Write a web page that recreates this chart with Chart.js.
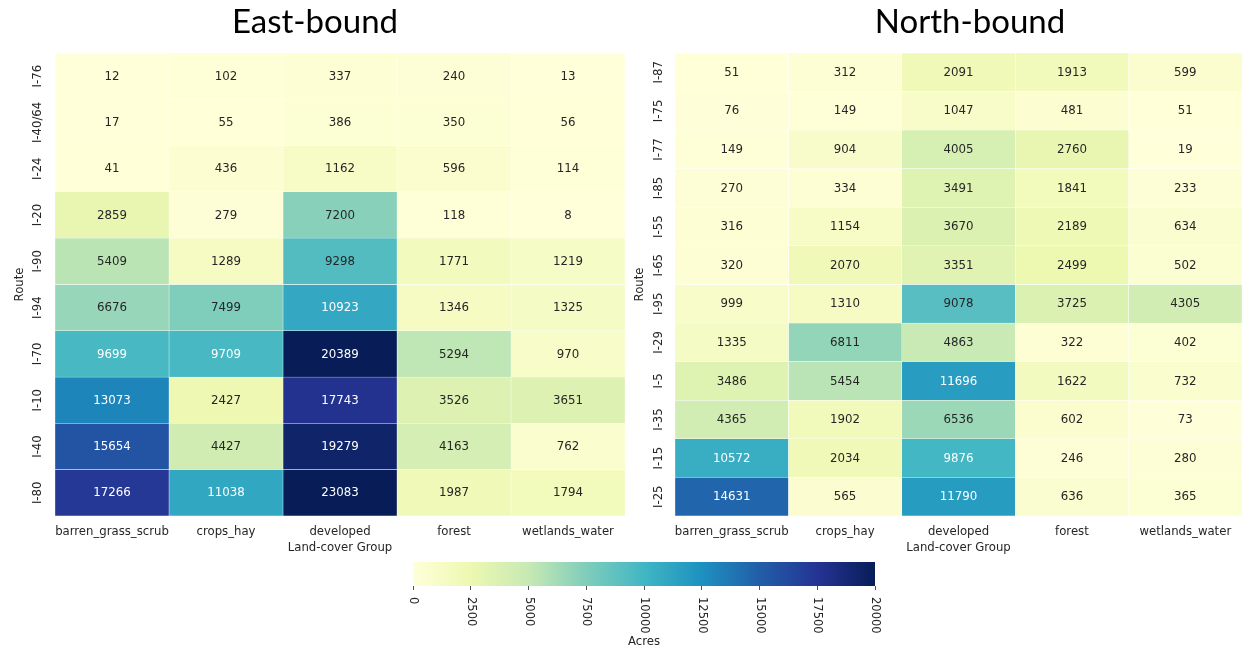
<!DOCTYPE html>
<html>
<head>
<meta charset="utf-8">
<script src="https://cdn.jsdelivr.net/npm/chart.js@4"></script>
<style>
  html, body { margin: 0; padding: 0; background: #ffffff; overflow: hidden; width: 1243px; height: 652px; }
  canvas { position: absolute; }
</style>
</head>
<body>
<canvas id="east" width="630" height="560" style="left:0px;top:0px;"></canvas>
<canvas id="north" width="700" height="560" style="left:620px;top:0px;"></canvas>
<canvas id="cbar" width="490" height="97" style="left:400px;top:555px;"></canvas>
<script>
// ---------- data ----------
const groups = ['barren_grass_scrub', 'crops_hay', 'developed', 'forest', 'wetlands_water'];

const eastRoutes = ['I-76', 'I-40/64', 'I-24', 'I-20', 'I-90', 'I-94', 'I-70', 'I-10', 'I-40', 'I-80'];
const eastBarren    = [12, 17, 41, 2859, 5409, 6676, 9699, 13073, 15654, 17266];
const eastCrops     = [102, 55, 436, 279, 1289, 7499, 9709, 2427, 4427, 11038];
const eastDeveloped = [337, 386, 1162, 7200, 9298, 10923, 20389, 17743, 19279, 23083];
const eastForest    = [240, 350, 596, 118, 1771, 1346, 5294, 3526, 4163, 1987];
const eastWetlands  = [13, 56, 114, 8, 1219, 1325, 970, 3651, 762, 1794];

const northRoutes = ['I-87', 'I-75', 'I-77', 'I-85', 'I-55', 'I-65', 'I-95', 'I-29', 'I-5', 'I-35', 'I-15', 'I-25'];
const northBarren    = [51, 76, 149, 270, 316, 320, 999, 1335, 3486, 4365, 10572, 14631];
const northCrops     = [312, 149, 904, 334, 1154, 2070, 1310, 6811, 5454, 1902, 2034, 565];
const northDeveloped = [2091, 1047, 4005, 3491, 3670, 3351, 9078, 4863, 11696, 6536, 9876, 11790];
const northForest    = [1913, 481, 2760, 1841, 2189, 2499, 3725, 322, 1622, 602, 246, 636];
const northWetlands  = [599, 51, 19, 233, 634, 502, 4305, 402, 732, 73, 280, 365];

const colorbarTicks = [0, 2500, 5000, 7500, 10000, 12500, 15000, 17500, 20000];
const vmin = 0, vmax = 20000;

// ---------- colormap (YlGnBu) ----------
const ylgnbu = ['#ffffd9', '#edf8b1', '#c7e9b4', '#7fcdbb', '#41b6c4', '#1d91c0', '#225ea8', '#253494', '#081d58'];
const stopsRGB = ylgnbu.map(h => [parseInt(h.slice(1,3),16), parseInt(h.slice(3,5),16), parseInt(h.slice(5,7),16)]);
function cmapRGB(v) {
  let t = (v - vmin) / (vmax - vmin);
  t = Math.max(0, Math.min(1, t));
  const pos = t * (stopsRGB.length - 1);
  const i = Math.min(Math.floor(pos), stopsRGB.length - 2);
  const f = pos - i;
  const a = stopsRGB[i], b = stopsRGB[i + 1];
  return [0,1,2].map(k => a[k] + (b[k] - a[k]) * f);
}
function cmap(v) {
  const c = cmapRGB(v);
  return 'rgb(' + c.map(x => Math.round(x)).join(',') + ')';
}
function textColorFor(v) {
  const c = cmapRGB(v).map(x => {
    x = x / 255;
    return x <= 0.03928 ? x / 12.92 : Math.pow((x + 0.055) / 1.055, 2.4);
  });
  const lum = 0.2126 * c[0] + 0.7152 * c[1] + 0.0722 * c[2];
  return lum > 0.408 ? '#262626' : '#ffffff';
}

const FONT = '"DejaVu Sans", sans-serif';
const TXT = '#262626';

const annotate = {
  id: 'annotate',
  afterDatasetsDraw(chart) {
    const ctx = chart.ctx;
    ctx.save();
    ctx.font = '11.8px ' + FONT;
    ctx.textAlign = 'center';
    ctx.textBaseline = 'middle';
    chart.data.datasets.forEach((ds, di) => {
      const meta = chart.getDatasetMeta(di);
      meta.data.forEach((el, i) => {
        const p = el.getCenterPoint();
        ctx.fillStyle = textColorFor(ds.values[i]);
        ctx.fillText(String(ds.values[i]), p.x, p.y + 0.5);
      });
    });
    ctx.restore();
  }
};

function heatmap(canvasId, title, routes, columns, rightGap, yTickPad) {
  const datasets = columns.map((vals, j) => ({
    label: groups[j],
    values: vals,
    data: routes.map(() => [j, j + 1]),
    backgroundColor: vals.map(cmap),
    borderColor: '#ffffff',
    borderWidth: 0.5,
    borderSkipped: false,
    barPercentage: 1,
    categoryPercentage: 1,
    grouped: false
  }));
  return new Chart(document.getElementById(canvasId), {
    type: 'bar',
    data: { labels: routes, datasets },
    options: {
      indexAxis: 'y',
      responsive: false,
      animation: false,
      layout: { padding: 0 },
      plugins: {
        legend: { display: false },
        tooltip: { enabled: false },
        title: {
          display: true,
          text: title,
          color: '#000000',
          font: { family: 'Lato, "Open Sans", sans-serif', size: 33, weight: 'normal', lineHeight: 1.2 },
          padding: { top: 2.2, bottom: 11.2 }
        }
      },
      scales: {
        x: {
          type: 'linear',
          min: 0,
          max: groups.length,
          grid: { display: false, drawTicks: false },
          border: { display: false },
          afterBuildTicks: (axis) => { axis.ticks = groups.map((g, i) => ({ value: i + 0.5 })); },
          afterFit: (s) => { s.height = 44; },
          ticks: {
            autoSkip: false, minRotation: 0, maxRotation: 0, padding: 9,
            color: TXT, font: { family: FONT, size: 11.7 },
            callback: (v) => groups[Math.floor(v)]
          },
          title: {
            display: true, text: 'Land-cover Group', color: TXT,
            font: { family: FONT, size: 11.7, lineHeight: 1.2 },
            padding: { top: 0, bottom: 5 }
          }
        },
        y: {
          type: 'category',
          labels: routes,
          grid: { display: false, drawTicks: false },
          border: { display: false },
          afterFit: (s) => { s.width = 55; },
          ticks: {
            autoSkip: false, minRotation: 90, maxRotation: 90, crossAlign: 'center',
            padding: yTickPad, color: TXT, font: { family: FONT, size: 11.7 }
          },
          title: {
            display: true, text: 'Route', color: TXT,
            font: { family: FONT, size: 11.7, lineHeight: 1.2 },
            padding: { top: 13, bottom: 0 }
          }
        },
        gap: {
          type: 'linear',
          position: 'right',
          display: true,
          grid: { display: false, drawTicks: false },
          border: { display: false },
          ticks: { display: false },
          afterFit: (s) => { s.width = rightGap; }
        }
      }
    },
    plugins: [annotate]
  });
}

heatmap('east', 'East-bound', eastRoutes,
  [eastBarren, eastCrops, eastDeveloped, eastForest, eastWetlands], 5, -3.7);
heatmap('north', 'North-bound', northRoutes,
  [northBarren, northCrops, northDeveloped, northForest, northWetlands], 78, 4.7);

// ---------- colorbar ----------
const cbarLabels = {
  id: 'cbarLabels',
  afterDraw(chart) {
    const xs = chart.scales.x;
    const ctx = chart.ctx;
    ctx.save();
    ctx.font = '11.5px ' + FONT;
    ctx.fillStyle = TXT;
    ctx.textAlign = 'left';
    ctx.textBaseline = 'middle';
    xs.ticks.forEach(t => {
      const px = xs.getPixelForValue(t.value);
      ctx.save();
      ctx.translate(px, chart.chartArea.bottom + 11);
      ctx.rotate(Math.PI / 2);
      ctx.fillText(String(t.value), 0, 0);
      ctx.restore();
    });
    ctx.restore();
  }
};

new Chart(document.getElementById('cbar'), {
  type: 'bar',
  data: {
    labels: ['Acres'],
    datasets: [{
      data: [[vmin, vmax]],
      backgroundColor: (c) => {
        const ca = c.chart.chartArea;
        if (!ca) return ylgnbu[0];
        const g = c.chart.ctx.createLinearGradient(ca.left, 0, ca.right, 0);
        ylgnbu.forEach((col, i) => g.addColorStop(i / (ylgnbu.length - 1), col));
        return g;
      },
      borderWidth: 0,
      barPercentage: 1,
      categoryPercentage: 1
    }]
  },
  options: {
    indexAxis: 'y',
    responsive: false,
    animation: false,
    layout: { padding: { left: 13, right: 15, top: 7, bottom: 0 } },
    plugins: { legend: { display: false }, tooltip: { enabled: false }, title: { display: false } },
    scales: {
      y: { display: false },
      x: {
        type: 'linear', min: vmin, max: vmax,
        afterBuildTicks: (axis) => { axis.ticks = colorbarTicks.map(v => ({ value: v })); },
        afterFit: (s) => { s.height = 66; },
        grid: { display: true, drawOnChartArea: false, drawTicks: true, tickLength: 4, color: TXT, lineWidth: 0.8 },
        border: { display: false },
        ticks: { display: false },
        title: {
          display: true, text: 'Acres', color: TXT,
          font: { family: FONT, size: 11.7, lineHeight: 1.2 },
          padding: { top: 0, bottom: 3 }
        }
      }
    }
  },
  plugins: [cbarLabels]
});
</script>
</body>
</html>
